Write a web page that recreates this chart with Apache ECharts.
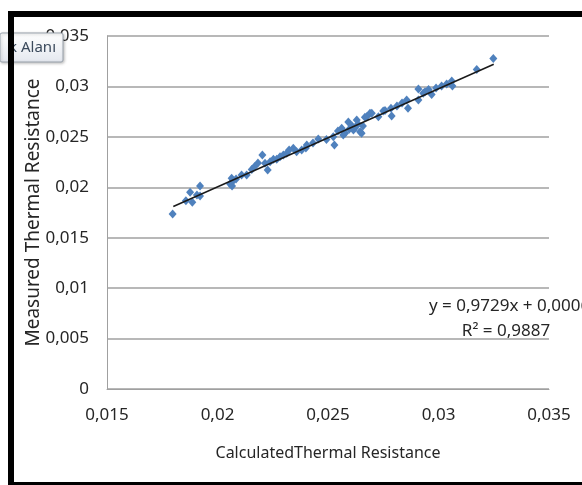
<!DOCTYPE html>
<html>
<head>
<meta charset="utf-8">
<script src="https://cdn.jsdelivr.net/npm/echarts@6/dist/echarts.min.js"></script>
<style>
  html, body { margin: 0; padding: 0; background: #ffffff; }
  #chart { width: 582px; height: 485px; }
</style>
</head>
<body>
<div id="chart"></div>
<script>
// Calculated thermal resistance (x) and measured thermal resistance (y)
var calcX = [
  0.01797, 0.01857, 0.01876, 0.01886, 0.01921, 0.01921, 0.01907, 0.02057, 0.02064, 0.02066,
  0.02070, 0.02109, 0.02132, 0.02155, 0.02167, 0.02203, 0.02215, 0.02227, 0.02238, 0.02253,
  0.02268, 0.02283, 0.02298, 0.02313, 0.02343, 0.02358, 0.02381, 0.02400, 0.02404, 0.02456,
  0.02493, 0.02524, 0.02529, 0.02562, 0.02569, 0.02577, 0.02592, 0.02596, 0.02615, 0.02630,
  0.02645, 0.02652, 0.02658, 0.02667, 0.02675, 0.02690, 0.02698, 0.02728, 0.02750, 0.02758,
  0.02785, 0.02788, 0.02856, 0.02862, 0.02909, 0.02909, 0.02931, 0.02939, 0.02955, 0.02969,
  0.03014, 0.03037, 0.03060, 0.03063, 0.03173, 0.03248, 0.02545, 0.02609, 0.02636, 0.02622,
  0.02183, 0.02084, 0.02432, 0.02324, 0.02812, 0.02835, 0.02989
];
var measY = [
  0.01735, 0.01867, 0.01950, 0.01851, 0.02013, 0.01914, 0.01923, 0.02033, 0.02089, 0.02013,
  0.02062, 0.02122, 0.02122, 0.02176, 0.02204, 0.02320, 0.02238, 0.02171, 0.02254, 0.02277,
  0.02277, 0.02303, 0.02320, 0.02337, 0.02386, 0.02353, 0.02370, 0.02389, 0.02419, 0.02479,
  0.02474, 0.02502, 0.02419, 0.02585, 0.02518, 0.02535, 0.02647, 0.02575, 0.02568, 0.02667,
  0.02551, 0.02535, 0.02608, 0.02694, 0.02700, 0.02734, 0.02734, 0.02700, 0.02756, 0.02761,
  0.02783, 0.02707, 0.02865, 0.02783, 0.02974, 0.02865, 0.02932, 0.02948, 0.02969, 0.02920,
  0.03004, 0.03024, 0.03054, 0.03004, 0.03168, 0.03277, 0.02558, 0.02608, 0.02627, 0.02588,
  0.02241, 0.02082, 0.02439, 0.02370, 0.02806, 0.02836, 0.02984
];
// Linear trend line end points (y = 0,9729x + 0,0006)
var trendX = [0.0180, 0.0325];
var trendY = [0.0181, 0.0322];
var xTicks = [0.015, 0.02, 0.025, 0.03, 0.035];
var yTicks = [0, 0.005, 0.01, 0.015, 0.02, 0.025, 0.03, 0.035];
var eqText = 'y = 0,9729x + 0,0006';
var r2Text = 'R\u00B2 = 0,9887';
var xTitle = 'CalculatedThermal Resistance';
var yTitle = 'Measured Thermal Resistance';
var tipText = 'k Alan\u0131';

var points = calcX.map(function (x, i) { return [x, measY[i]]; });
var trend = trendX.map(function (x, i) { return [x, trendY[i]]; });

function fmt(v) {
  var s = String(parseFloat(Number(v).toFixed(4)));
  return s.replace('.', ',');
}

var FONT = '"Noto Sans", "Open Sans", sans-serif';
var TXT = '#262626';

var chart = echarts.init(document.getElementById('chart'), null, { renderer: 'canvas' });
chart.setOption({
  animation: false,
  backgroundColor: '#ffffff',
  grid: { left: 107, top: 36, right: 33, bottom: 96, containLabel: false },
  xAxis: {
    type: 'value',
    min: xTicks[0], max: xTicks[xTicks.length - 1], interval: 0.005,
    name: xTitle, nameLocation: 'middle', nameGap: 56, nameMoveOverlap: false,
    nameTextStyle: { fontFamily: FONT, fontSize: 16, color: TXT },
    axisLine: { show: true, onZero: false, lineStyle: { color: '#a0a0a0', width: 1 } },
    axisTick: { show: false },
    splitLine: { show: false },
    axisLabel: { formatter: fmt, fontFamily: FONT, fontSize: 17, color: TXT, margin: 18 }
  },
  yAxis: {
    type: 'value',
    min: yTicks[0], max: yTicks[yTicks.length - 1], interval: 0.005,
    name: yTitle, nameLocation: 'middle', nameGap: 64, nameRotate: 90, nameMoveOverlap: false,
    nameTextStyle: { fontFamily: FONT, fontSize: 19, color: TXT },
    axisLine: { show: true, lineStyle: { color: '#a0a0a0', width: 1 } },
    axisTick: { show: false },
    splitLine: { show: true, lineStyle: { color: '#a0a0a0', width: 1.5 } },
    axisLabel: { formatter: fmt, fontFamily: FONT, fontSize: 17, color: TXT, margin: 18 }
  },
  series: [
    {
      type: 'scatter',
      data: points,
      symbol: 'diamond',
      symbolSize: [8, 9],
      itemStyle: { color: '#4F81BD', opacity: 1 },
      z: 3
    },
    {
      type: 'line',
      data: trend,
      symbol: 'none',
      lineStyle: { color: '#1a1a1a', width: 1.5 },
      z: 4
    }
  ],
  graphic: [
    { type: 'text', x: 429, y: 306, z: 50,
      style: { text: eqText, font: '17px ' + FONT, fill: TXT, verticalAlign: 'middle' } },
    { type: 'text', x: 506, y: 331, z: 50,
      style: { text: r2Text, font: '17px ' + FONT, fill: TXT, align: 'center', verticalAlign: 'middle' } },
    // tooltip-like box partially hidden behind the frame
    { type: 'rect', shape: { x: 0, y: 33, width: 63, height: 29, r: 2 }, z: 60,
      style: { fill: new echarts.graphic.LinearGradient(0, 0, 0, 1, [
        { offset: 0, color: '#ffffff' }, { offset: 1, color: '#e4e8ef' }]),
        stroke: '#9aa3ad', lineWidth: 1, shadowBlur: 3, shadowColor: 'rgba(0,0,0,0.25)', shadowOffsetX: 1, shadowOffsetY: 1 } },
    { type: 'text', x: 56, y: 48, z: 61,
      style: { text: tipText, font: '15px ' + FONT, fill: '#3b4a5c', align: 'right', verticalAlign: 'middle' } },
    // black frame
    { type: 'rect', shape: { x: 8, y: 11, width: 6, height: 474 }, z: 100, style: { fill: '#000000' } },
    { type: 'rect', shape: { x: 8, y: 11, width: 574, height: 6 }, z: 100, style: { fill: '#000000' } },
    { type: 'rect', shape: { x: 8, y: 482, width: 574, height: 3 }, z: 100, style: { fill: '#000000' } }
  ]
});
</script>
</body>
</html>
